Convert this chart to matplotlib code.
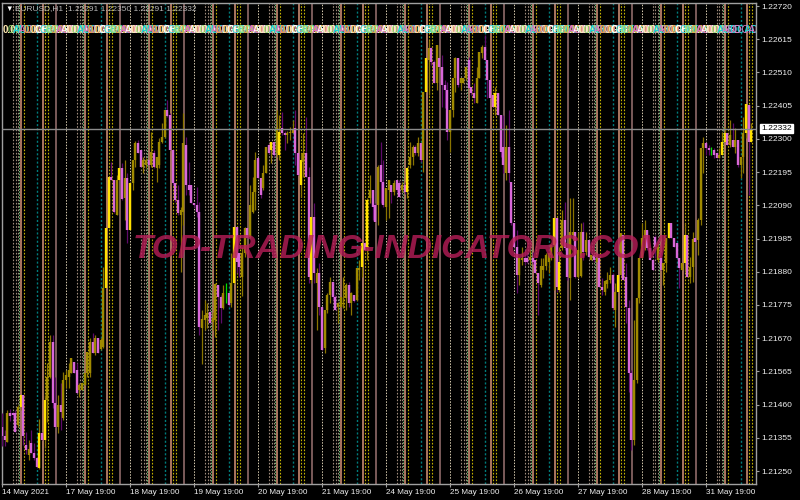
#!/usr/bin/env python3
# -*- coding: utf-8 -*-
"""EURUSD H1 terminal screenshot with session lines and watermark."""

import matplotlib
# Use Agg backend for headless operation
matplotlib.use('Agg')
import matplotlib.pyplot as plt

# prices are stored as points above 1.20000
PRICE_BASE = 1.2
POINT = 0.00001

opens = [
    1390,1361,1342,1434,1434,1434,1396,1453,1491,1333,
    1301,1339,1308,1292,1260,1371,1349,1475,1548,1658,
    1466,1390,1459,1418,1538,1548,1560,1595,1570,1507,
    1507,1522,1560,1560,1658,1624,1671,1636,1642,1829,
    2018,2180,2170,2060,2170,2208,2113,2177,2012,2161,
    2233,2287,2265,2211,2218,2233,2218,2256,2208,2218,
    2290,2306,2391,2376,2265,2161,2107,2060,2069,2281,
    2154,2154,2098,2091,2069,1703,1728,1734,1753,1721,
    1728,1838,1800,1766,1810,1813,1781,1845,2022,1940,
    1864,1940,2018,1990,2069,2132,2240,2177,2145,2192,
    2281,2265,2290,2256,2249,2335,2319,2312,2319,2319,
    2335,2256,2154,2227,2256,2180,1854,2053,1845,1876,
    1769,1639,1759,1807,1848,1800,1769,1769,1778,1797,
    1838,1781,1807,1791,1886,1895,1971,1958,2113,2139,
    2091,2091,2218,2164,2085,2139,2154,2132,2170,2161,
    2139,2154,2132,2218,2243,2274,2256,2287,2233,2448,
    2549,2587,2543,2477,2556,2527,2470,2455,2322,2391,
    2493,2556,2477,2477,2493,2549,2464,2445,2414,2493,
    2572,2590,2549,2486,2439,2401,2445,2376,2274,2192,
    2274,2164,2034,1958,1870,1917,1924,1924,1917,1924,
    1917,1876,1838,1886,1898,1911,1933,1965,2050,1823,
    1955,2044,1955,1861,1996,2006,1864,1867,2006,1943,
    1981,1917,1933,1911,1924,1832,1816,1841,1854,1870,
    1759,1816,1870,1996,1864,1766,1560,1349,1538,1797,
    1924,1987,2012,1955,1917,1990,1917,1924,1886,1908,
    1987,2034,1987,1971,1924,1886,1908,1996,1864,1895,
    1987,1981,2044,2271,2287,2271,2265,2265,2256,2240,
    2249,2290,2319,2281,2297,2274,2297,2218,2243,2319,2407,2291,
]
closes = [
    1361,1349,1434,1424,1428,1374,1453,1491,1361,1317,
    1320,1308,1292,1263,1371,1349,1475,1548,1658,1466,
    1390,1459,1437,1538,1554,1570,1608,1560,1497,1522,
    1529,1560,1627,1658,1624,1671,1624,1665,1829,2018,
    2180,2170,2069,2170,2208,2110,2177,2012,2161,2233,
    2287,2256,2211,2233,2233,2218,2259,2211,2243,2290,
    2306,2391,2372,2265,2161,2107,2066,2075,2287,2154,
    2139,2098,2091,2069,1706,1731,1744,1750,1718,1734,
    1842,1800,1766,1813,1810,1775,1845,2022,1911,1895,
    1940,2018,1987,2091,2132,2233,2177,2123,2192,2274,
    2256,2290,2249,2335,2322,2319,2312,2319,2322,2328,
    2256,2186,2233,2256,2180,1864,2053,1876,1876,1769,
    1633,1759,1807,1848,1800,1759,1781,1800,1781,1838,
    1781,1813,1788,1892,1892,1971,1949,2107,2139,2085,
    2037,2211,2164,2091,2145,2170,2132,2161,2139,2116,
    2154,2132,2208,2243,2274,2256,2287,2233,2448,2556,
    2587,2543,2477,2597,2527,2470,2455,2322,2391,2493,
    2556,2470,2493,2493,2527,2461,2445,2429,2493,2575,
    2590,2549,2486,2429,2401,2445,2376,2259,2218,2274,
    2192,2034,1958,1870,1924,1924,1911,1911,1927,1911,
    1876,1845,1898,1898,1933,1940,1965,2050,1832,1911,
    2044,1955,1864,2006,2006,1864,1949,2006,1943,1981,
    1927,1933,1917,1924,1832,1823,1851,1854,1870,1766,
    1816,1870,2003,1854,1769,1560,1349,1538,1797,1924,
    1987,2012,1955,1917,1886,1958,1958,1886,1908,1987,
    2034,1987,1958,1924,1892,1908,1996,1864,1895,1984,
    1974,2044,2271,2287,2271,2265,2265,2249,2240,2249,
    2290,2319,2281,2312,2274,2297,2218,2243,2319,2410,2290,2332,
]
highs = [
    1434,1380,1443,1447,1437,1443,1459,1491,1491,1374,
    1349,1380,1339,1295,1415,1374,1491,1592,1680,1680,
    1548,1491,1529,1563,1570,1592,1608,1595,1592,1529,
    1529,1560,1627,1671,1687,1680,1671,1671,1895,2018,
    2180,2227,2170,2186,2208,2224,2233,2192,2161,2233,
    2293,2297,2265,2243,2240,2233,2322,2265,2243,2303,
    2350,2391,2423,2382,2265,2161,2154,2085,2382,2306,
    2227,2154,2098,2148,2101,1759,1791,1781,1756,1753,
    1845,1838,1807,1838,1845,1813,1940,2022,2022,1940,
    1958,2022,2018,2154,2180,2259,2240,2177,2218,2274,
    2287,2290,2290,2391,2376,2385,2325,2325,2338,2360,
    2391,2256,2256,2319,2369,2211,2053,2098,1892,1908,
    1769,1759,1813,1864,1848,1807,1785,1800,1864,1845,
    1848,1816,1807,1892,1917,1971,1974,2113,2186,2139,
    2098,2218,2290,2233,2145,2170,2154,2170,2170,2170,
    2164,2164,2211,2290,2281,2281,2306,2287,2448,2556,
    2613,2590,2549,2597,2556,2565,2486,2480,2391,2493,
    2559,2556,2493,2493,2527,2559,2464,2477,2527,2575,
    2597,2628,2549,2486,2439,2464,2445,2376,2376,2344,
    2391,2164,2034,2012,1927,1958,1949,1943,1949,1943,
    1917,1876,1924,1924,1940,1940,1965,2050,2050,1958,
    2075,2101,1955,2113,2113,2006,2006,2034,2037,2006,
    1981,1933,1933,1924,1924,1861,1854,1879,1895,1876,
    1845,1870,2003,1996,1908,1791,1570,1728,1797,1924,
    2034,2044,2012,1955,1917,1996,1974,1943,1908,1987,
    2034,2034,1987,1971,1924,1908,2034,1996,1927,2006,
    1987,2050,2271,2306,2290,2281,2274,2271,2256,2271,
    2322,2338,2319,2360,2350,2335,2297,2243,2369,2414,2407,2350,
]
lows = [
    1330,1330,1342,1409,1418,1374,1390,1443,1333,1304,
    1285,1308,1285,1260,1257,1349,1323,1405,1544,1450,
    1390,1371,1380,1412,1513,1513,1560,1560,1497,1484,
    1507,1522,1548,1548,1624,1617,1624,1633,1639,1829,
    2018,2170,2066,2060,2170,2107,2044,1971,2012,2139,
    2211,2256,2211,2192,2208,2218,2211,2208,2164,2208,
    2287,2303,2369,2265,2154,2101,2060,1879,2028,2123,
    2123,2098,2085,2053,1680,1589,1696,1703,1715,1696,
    1674,1696,1718,1763,1781,1772,1769,1842,1876,1864,
    1804,1927,1987,1987,2066,2075,2177,2113,2139,2192,
    2252,2224,2243,2243,2233,2312,2265,2287,2297,2319,
    2218,2186,2116,2180,2180,1845,1845,1845,1696,1744,
    1633,1624,1750,1781,1791,1759,1718,1769,1766,1759,
    1769,1744,1785,1788,1854,1864,1949,1917,2098,2044,
    2037,2028,2098,2085,2044,2050,2098,2123,2132,2116,
    2132,2126,2113,2208,2218,2249,2246,2227,2195,2448,
    2439,2534,2477,2455,2527,2401,2398,2297,2259,2369,
    2448,2464,2455,2477,2486,2461,2439,2414,2414,2493,
    2556,2549,2429,2429,2401,2376,2376,2243,2192,2170,
    2164,2028,1958,1813,1838,1902,1902,1908,1902,1905,
    1876,1744,1832,1861,1886,1876,1917,1823,1816,1816,
    1949,1949,1854,1791,1981,1861,1861,1864,1917,1933,
    1924,1917,1911,1911,1832,1807,1807,1829,1845,1759,
    1706,1816,1870,1854,1718,1500,1317,1333,1529,1781,
    1924,1949,1949,1917,1886,1924,1911,1886,1838,1879,
    1987,1987,1958,1924,1829,1886,1879,1864,1845,1848,
    1974,1933,2028,2192,2249,2249,2249,2240,2240,2240,
    2249,2290,2281,2274,2274,2256,2211,2176,2192,2303,2123,2291,
]
# up bars that show up in bright yellow instead of olive
bright_bars = [7, 14, 16, 39, 40, 44, 48, 87, 101, 104, 112, 116, 135, 137, 152,
               159, 185, 207, 209, 231, 250, 256, 270, 271, 279, 281]

price_ticks = [1.22720, 1.22615, 1.22510, 1.22405, 1.22300, 1.22195, 1.22090, 1.21985,
               1.21880, 1.21775, 1.21670, 1.21565, 1.21460, 1.21355, 1.21250]
date_labels = ['14 May 2021', '17 May 19:00', '18 May 19:00', '19 May 19:00',
               '20 May 19:00', '21 May 19:00', '24 May 19:00', '25 May 19:00',
               '26 May 19:00', '27 May 19:00', '28 May 19:00', '31 May 19:00']
last_price = 1.22332
symbol_line = 'EURUSD,H1  1.22291 1.22350 1.22291 1.22332'
watermark = 'TOP-TRADING-INDICATORS.COM'

# (bar offset inside the day, colour, dotted?, width)
day_lines = [
    (0.0, '#d8ccb0', True, 0.7),
    (4.1, '#a08c7c', True, 0.8),
    (5.1, '#a08c7c', True, 0.8),
    (5.9, '#a08c7c', True, 0.8),
    (6.5, '#68c078', True, 0.7),
    (7.1, '#b87f68', False, 1.3),
    (8.2, '#c4b400', True, 0.8),
    (13.1, '#007c7c', True, 1.0),
    (15.4, '#b87f68', False, 1.3),
    (16.2, '#c4b400', True, 0.8),
    (17.2, '#c4b400', True, 0.8),
    (20.2, '#9c7472', False, 1.1),
]
BARS_PER_DAY = 24

strip_colors = ['#ffe9b0', '#20d0d0', '#f0a040', '#ffffff', '#90e070', '#e070c0']
strip_parts = ['0.00', 'AUDCAD', '0.0001', 'GBPUSD', '0.0001', 'AUDUSD']


def price(points):
    return PRICE_BASE + points * POINT


def draw_candles(ax):
    for i, (o, h, l, c) in enumerate(zip(opens, highs, lows, closes)):
        if c > o:
            wick, body = '#8a7400', '#ffe000' if i in bright_bars else '#a08a00'
        elif c < o:
            wick, body = '#5e0a68', '#d868d8'
        else:
            wick, body = '#00e000', '#00e000'
        ax.vlines(i, price(l), price(h), color=wick, lw=0.9, zorder=3)
        ax.vlines(i, price(min(o, c)), price(max(o, c)), color=body, lw=1.7, zorder=4)


def main():
    plt.rcParams['font.family'] = ['Liberation Sans', 'DejaVu Sans']
    fig = plt.figure(figsize=(8, 5), dpi=100, facecolor='black')
    ax = fig.add_axes([1.5 / 800, 1 - 484 / 500, 754.5 / 800, 481 / 500], facecolor='black')
    ax.set_xlim(-0.2, 282.8)
    ax.set_ylim(1.21209, 1.227295)

    for spine in ax.spines.values():
        spine.set_color('#a0a0a0')
        spine.set_linewidth(1)

    for day in range(len(date_labels)):
        for offset, color, dotted, width in day_lines:
            ax.axvline(BARS_PER_DAY * day + offset, color=color, lw=width,
                       ls=(0, (1.5, 1.5)) if dotted else '-', zorder=1)

    draw_candles(ax)

    ax.axhline(last_price, color='#8c8c8c', lw=1, zorder=5)

    # indicator text strip under the symbol line
    for day in range(len(date_labels)):
        for k, (part, color) in enumerate(zip(strip_parts, strip_colors)):
            x = BARS_PER_DAY * day + k * 4 + 0.2
            if x > 272:
                continue
            ax.text(x, 0.9445, part, color=color, fontsize=7, fontweight='bold',
                    va='center', transform=ax.get_xaxis_transform(), clip_on=True, zorder=6)
            ax.text(x + 2, 0.9445, part, color=strip_colors[k - 2], fontsize=7,
                    va='center', transform=ax.get_xaxis_transform(), clip_on=True, zorder=6)

    ax.text(0.0055, 0.9875, '\u25bc', color='white', fontsize=5.5, va='center',
            transform=ax.transAxes, zorder=7)
    ax.text(0.0175, 0.9875, symbol_line, color='#b8b8b8', fontsize=6.0, va='center',
            transform=ax.transAxes, zorder=7)

    ax.text(0.528, 0.4865, watermark, color='#b81e58', alpha=0.8, fontsize=24,
            fontweight='bold', fontstyle='italic', ha='center', va='center',
            transform=ax.transAxes, zorder=8)

    ax.yaxis.tick_right()
    ax.set_yticks(price_ticks)
    ax.set_yticklabels([f'{p:.5f}' for p in price_ticks])
    ax.tick_params(axis='y', colors='#f0f0f0', labelsize=6.1, length=2.5, width=0.8, pad=1,
                   color='#a0a0a0')

    ax.set_xticks([BARS_PER_DAY * day for day in range(len(date_labels))])
    ax.set_xticklabels(date_labels, ha='left')
    ax.tick_params(axis='x', colors='#f0f0f0', labelsize=5.9, length=2.5, width=0.8, pad=0.8,
                   color='#a0a0a0')

    # price tag on the axis
    ax.annotate(f'{last_price:.5f}', xy=(1, last_price), xycoords=('axes fraction', 'data'),
                xytext=(3.5, 0), textcoords='offset points', color='black', fontsize=6.1,
                va='center', ha='left', annotation_clip=False, zorder=9,
                bbox=dict(boxstyle='square,pad=0.12', facecolor='white', edgecolor='white'))

    fig.savefig('out.png', dpi=100, facecolor='black')
    plt.close(fig)


if __name__ == '__main__':
    main()
